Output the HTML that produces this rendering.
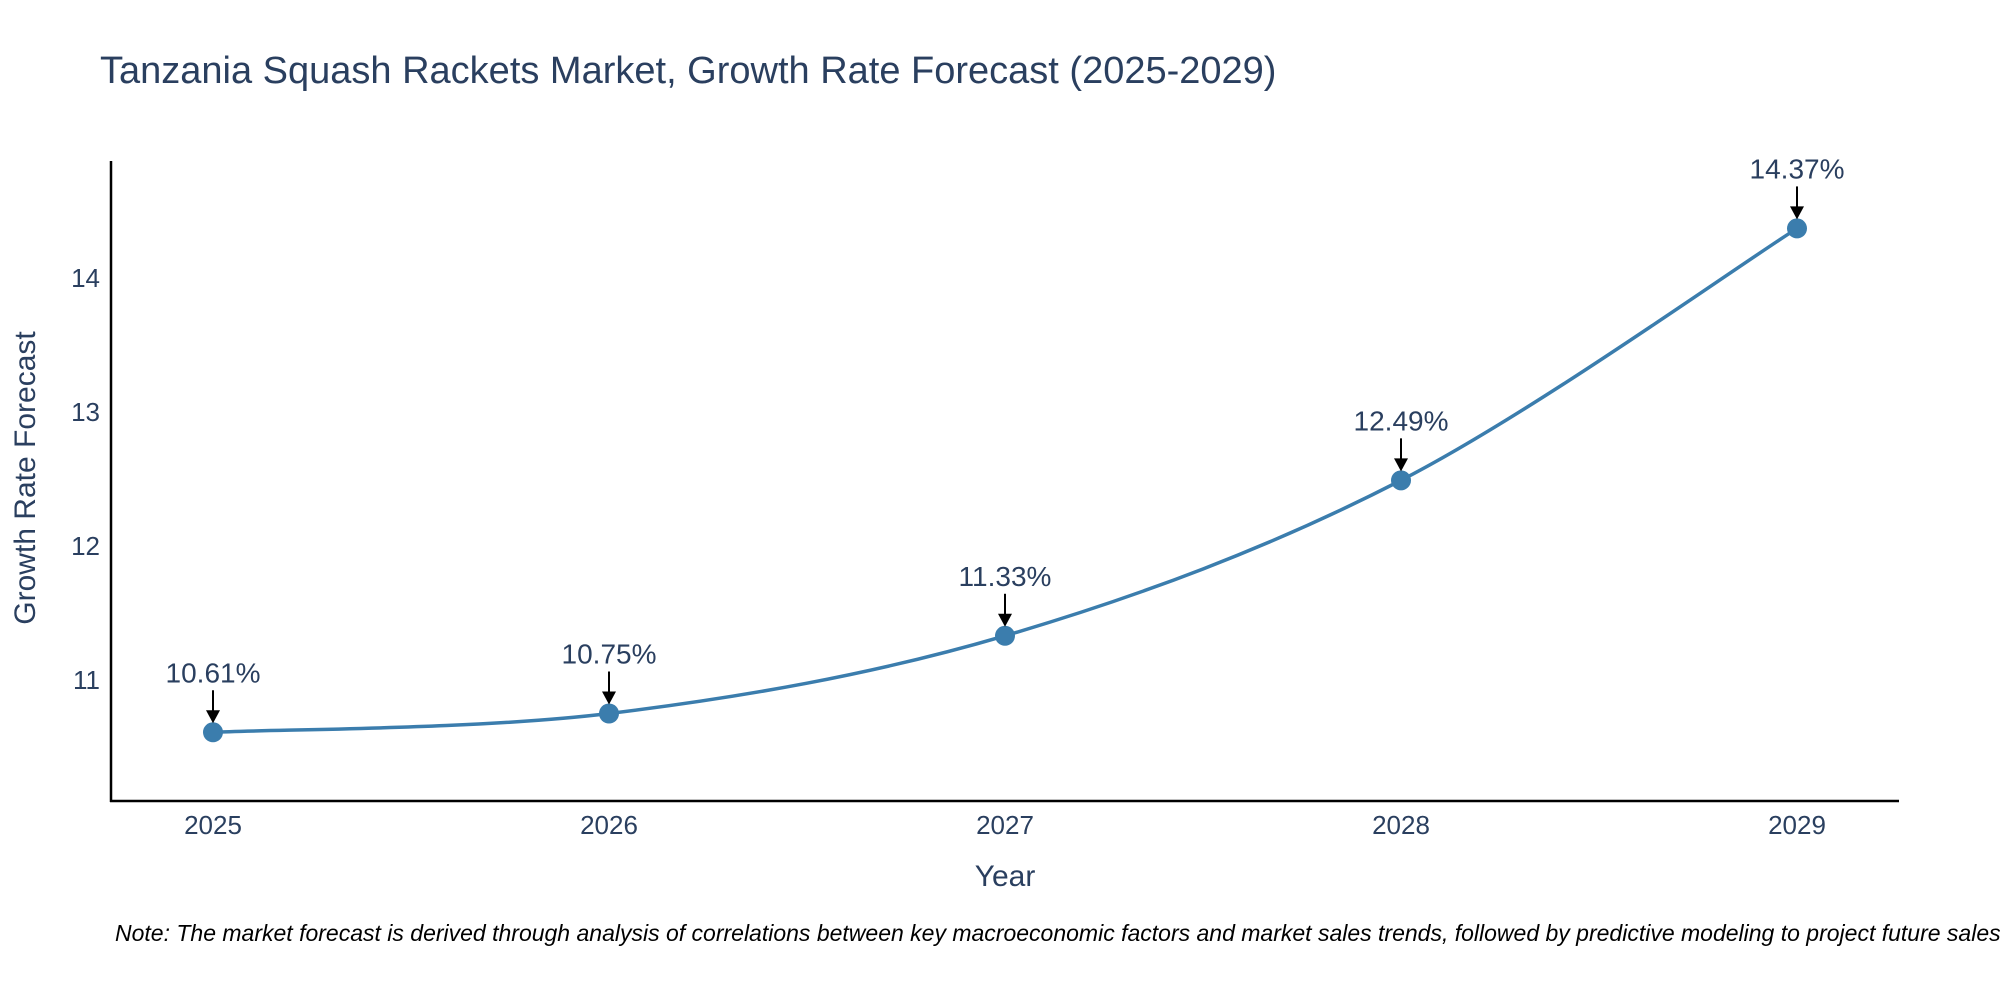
<!DOCTYPE html>
<html><head><meta charset="utf-8"><style>
html,body{margin:0;padding:0;background:#fff;}
svg{display:block;font-family:"Liberation Sans",sans-serif;}
</style></head><body>
<svg id="chart" width="2000" height="1000">
<text x="100" y="83" font-size="38" fill="#2a3f5f">Tanzania Squash Rackets Market, Growth Rate Forecast (2025-2029)</text>
<line x1="111" y1="161" x2="111" y2="802" stroke="#000" stroke-width="2.5"/>
<line x1="110" y1="801" x2="1899" y2="801" stroke="#000" stroke-width="2.5"/>
<g id="yticks"></g><g id="xticks"></g>
<path id="curve" fill="none" stroke="#3b7dad" stroke-width="3.5"/>
<g id="points"></g><g id="annos"></g>
<text transform="translate(35,478) rotate(-90)" text-anchor="middle" font-size="30" fill="#2a3f5f">Growth Rate Forecast</text>
<text x="1005" y="886" text-anchor="middle" font-size="30" fill="#2a3f5f">Year</text>
<text x="115" y="941" font-size="23" font-style="italic" fill="#000">Note: The market forecast is derived through analysis of correlations between key macroeconomic factors and market sales trends, followed by predictive modeling to project future sales.</text>
</svg>
<script>
const years = ["2025","2026","2027","2028","2029"];
const values = [10.61, 10.75, 11.33, 12.49, 14.37];
const yTicks = [11, 12, 13, 14];
const NS = "http://www.w3.org/2000/svg";
function xs(i){ return 213 + i*(1797-213)/4; }
function ys(v){ return 680 - (v-11)*134; }
function mk(tag, attrs, parent){ const e=document.createElementNS(NS,tag); for(const k in attrs) e.setAttribute(k,attrs[k]); parent.appendChild(e); return e; }
const yt=document.getElementById('yticks');
yTicks.forEach(t=>{
  const e=mk('text',{x:100,y:ys(t)+9,'text-anchor':'end','font-size':26,fill:'#2a3f5f'},yt);
  
  
  e.textContent=t;
});
const xt=document.getElementById('xticks');
years.forEach((y,i)=>{
  const e=mk('text',{x:xs(i),y:834,'text-anchor':'middle','font-size':26,fill:'#2a3f5f'},xt);
  
  
  e.textContent=y;
});
const P=values.map((v,i)=>[xs(i),ys(v)]);
let d=`M${P[0][0]},${P[0][1]}`;
for(let i=0;i<P.length-1;i++){
  const p0=P[Math.max(i-1,0)],p1=P[i],p2=P[i+1],p3=P[Math.min(i+2,P.length-1)];
  const c1=[p1[0]+(p2[0]-p0[0])/6,p1[1]+(p2[1]-p0[1])/6];
  const c2=[p2[0]-(p3[0]-p1[0])/6,p2[1]-(p3[1]-p1[1])/6];
  d+=` C${c1[0]},${c1[1]} ${c2[0]},${c2[1]} ${p2[0]},${p2[1]}`;
}
document.getElementById('curve').setAttribute('d',d);
const pts=document.getElementById('points'), an=document.getElementById('annos');
P.forEach((p,i)=>{
  const c=mk('circle',{cx:p[0],cy:p[1],r:10,fill:'#3b7dad'},pts);
  
  
  const l=mk('line',{x1:p[0],y1:p[1]-42,x2:p[0],y2:p[1]-20,stroke:'#000','stroke-width':2},an);
  
  
  const h=mk('polygon',{points:`${p[0]-7},${p[1]-22} ${p[0]+7},${p[1]-22} ${p[0]},${p[1]-9}`,fill:'#000'},an);
  
  
  const t=mk('text',{x:p[0],y:p[1]-50,'text-anchor':'middle','font-size':28,fill:'#2a3f5f'},an);
  
  
  t.textContent=values[i].toFixed(2)+'%';
});
</script>
</body></html>
